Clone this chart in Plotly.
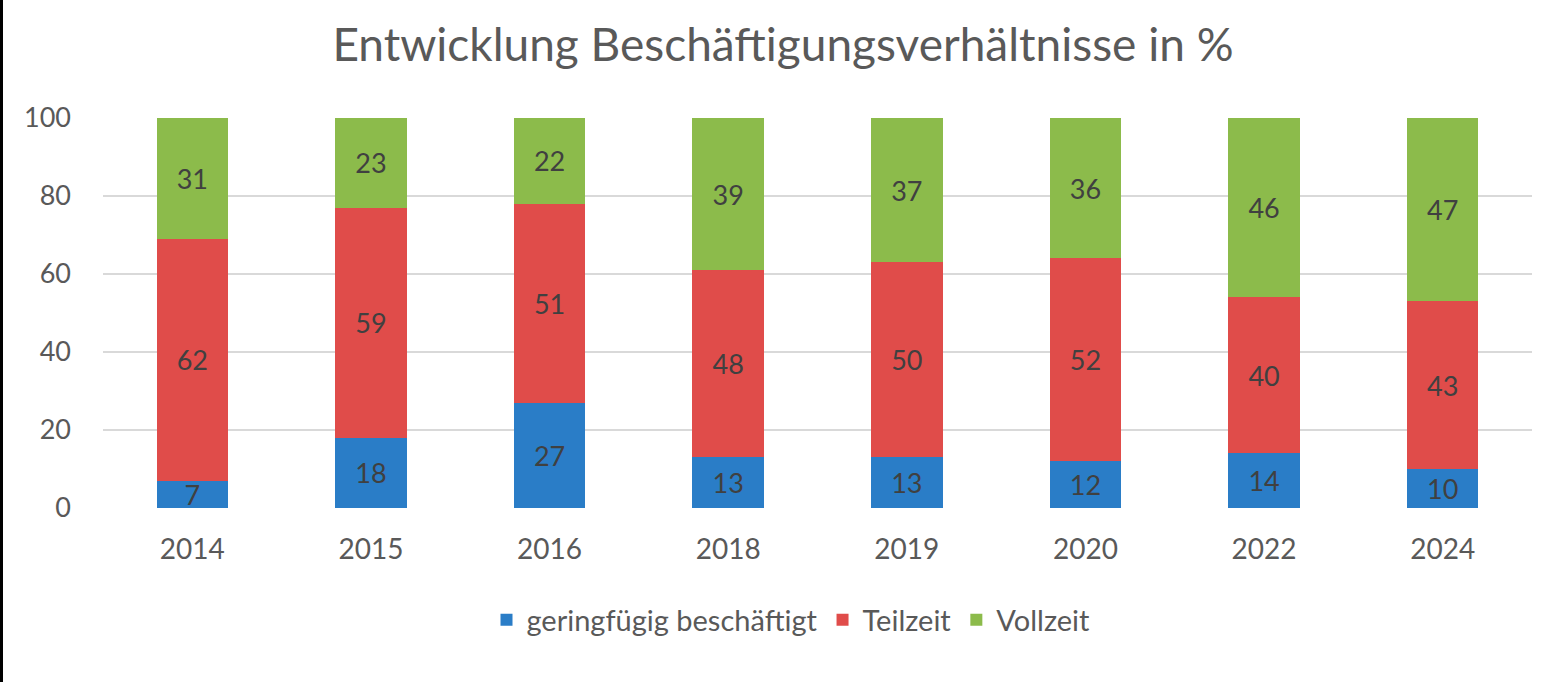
import plotly.graph_objects as go

years = ["2014", "2015", "2016", "2018", "2019", "2020", "2022", "2024"]
geringfuegig = [7, 18, 27, 13, 13, 12, 14, 10]
teilzeit = [62, 59, 51, 48, 50, 52, 40, 43]
vollzeit = [31, 23, 22, 39, 37, 36, 46, 47]

series = [
    ("geringfügig beschäftigt", geringfuegig, "#2a7dc7"),
    ("Teilzeit", teilzeit, "#e04c4a"),
    ("Vollzeit", vollzeit, "#8cbb4b"),
]

FONT = "Lato"
W, H = 1566, 682
ML, MR, MT, MB = 103, 34, 118, 174
PW, PH = W - ML - MR, H - MT - MB

fig = go.Figure()
for name, vals, col in series:
    fig.add_trace(go.Bar(
        x=years, y=vals, name=name, marker=dict(color=col, line=dict(width=0)),
        text=vals, textposition="inside", insidetextanchor="middle", textangle=0,
        textfont=dict(family=FONT, size=27, color="#404040"),
        constraintext="none",
    ))

fig.update_layout(
    barmode="stack", bargap=0.6,
    width=W, height=H,
    margin=dict(l=ML, r=MR, t=MT, b=MB),
    paper_bgcolor="white", plot_bgcolor="white",
    font=dict(family=FONT, color="#595959", size=28),
    title=dict(text="Entwicklung Beschäftigungsverhältnisse in %", x=0.5, xanchor="center",
               y=1 - 45 / H, yref="container", yanchor="middle",
               font=dict(family=FONT, size=46, color="#595959")),
    showlegend=True,
    legend=dict(orientation="h", x=(791 - ML) / PW, xanchor="center",
                y=-(620 - (MT + PH)) / PH, yanchor="middle",
                font=dict(family=FONT, size=29, color="#595959"), traceorder="normal",
                itemwidth=30),
    uniformtext=dict(mode=False),
)
fig.update_yaxes(range=[0, 100], dtick=20, showgrid=True, gridcolor="#d9d9d9", gridwidth=2,
                 zeroline=False, showline=False, ticks="", ticklabelstandoff=31,
                 tickfont=dict(family=FONT, size=27, color="#595959"))
fig.update_xaxes(showline=False, ticks="", ticklabelstandoff=22,
                 tickfont=dict(family=FONT, size=28, color="#595959"))
fig.add_shape(type="line", xref="paper", yref="paper", x0=(1.5 - ML) / PW, x1=(1.5 - ML) / PW,
              y0=-MB / PH, y1=1 + MT / PH, line=dict(color="black", width=3))

fig.write_html("out.html", config={"displayModeBar": False},
               post_script="document.body.style.margin='0px';")
